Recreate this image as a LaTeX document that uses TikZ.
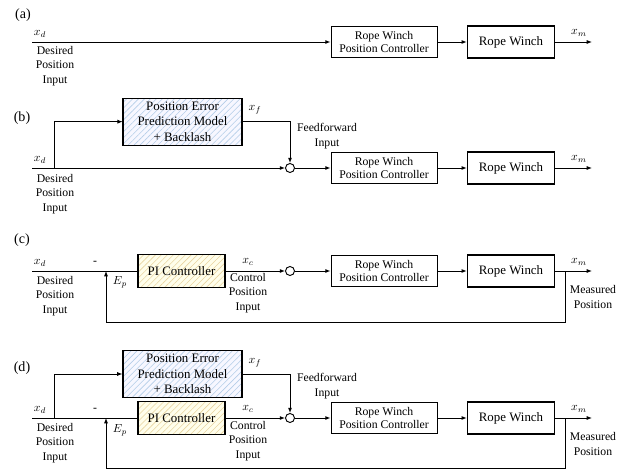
\documentclass[tikz,border=0pt]{standalone}
\usepackage{fontspec}
\setmainfont{Liberation Serif}
\usepackage{tikz}
\usetikzlibrary{positioning, arrows.meta, patterns.meta}
\definecolor{HatchBlue}{RGB}{180,205,232}
\definecolor{HatchGold}{RGB}{232,212,160}

\begin{document}
\begin{tikzpicture}[
          tag/.style={font=\fontsize{12}{14}\selectfont},
          lbl/.style={align=center, font=\fontsize{10}{12.5}\selectfont},
          sig/.style={font=\fontsize{10}{12}\selectfont, inner sep=1pt},
          ctl/.style={draw, line width=0.8pt, minimum width=3.18cm,
                      minimum height=0.93cm, align=center,
                      font=\fontsize{10}{11.5}\selectfont},
          plant/.style={draw, line width=1.2pt, minimum width=2.61cm,
                        minimum height=0.96cm, font=\fontsize{11}{13}\selectfont},
          model/.style={draw, line width=0.9pt, minimum width=3.57cm,
                        minimum height=1.35cm, align=center,
                        font=\fontsize{11}{13}\selectfont,
                        preaction={fill=blue!3},
                        pattern={Lines[angle=45, distance=3.6pt, line width=0.5pt]},
                        pattern color=HatchBlue},
          pictl/.style={draw, line width=0.9pt, minimum width=2.61cm,
                        minimum height=0.99cm,
                        font=\fontsize{11}{13}\selectfont,
                        preaction={fill=yellow!8},
                        pattern={Lines[angle=45, distance=3.6pt, line width=0.5pt]},
                        pattern color=HatchGold},
          sum/.style={circle, draw, line width=0.8pt, fill=white,
                      inner sep=0pt, minimum size=0.27cm},
          arr/.style={-{Latex[length=4.5pt, width=3.5pt]}, line width=0.85pt},
          ln/.style={line width=0.85pt}
        ]
        \useasboundingbox (0,0) rectangle (18.81,14.1);

        % (a) open loop
        \node[tag] (tagA) at (0.69, 13.65) {(a)};
        \coordinate (inA) at (0.96, 12.84);
        \coordinate (outA) at (17.76, 12.84);
        \node[sig] (xdA) at (1.2, 13.08) {$x_d$};
        \node[lbl] (desA) at (1.65, 12.12) {Desired\\Position\\Input};
        \node[ctl] (rwpcA) at (11.52, 12.84) {Rope Winch\\Position Controller};
        \node[plant] (rwA) at (15.33, 12.84) {Rope Winch};
        \node[sig] (xmA) at (17.37, 13.12) {$x_m$};
        \draw[arr] (inA) -- (rwpcA);
        \draw[arr] (rwpcA) -- (rwA);
        \draw[arr] (rwA) -- (outA);

        % (b) feedforward
        \node[tag] (tagB) at (0.66, 10.56) {(b)};
        \coordinate (inB) at (0.96, 9.06);
        \coordinate (brB) at (1.62, 9.06);
        \coordinate (outB) at (17.76, 9.06);
        \node[sig] (xdB) at (1.2, 9.3) {$x_d$};
        \node[lbl] (desB) at (1.65, 8.28) {Desired\\Position\\Input};
        \node[model] (pepmB) at (5.475, 10.45)
              {Position Error\\Prediction Model\\+ Backlash};
        \node[sig] (xfB) at (7.65, 10.8) {$x_f$};
        \node[sum] (sumB) at (8.7, 9.06) {};
        \node[lbl] (ffB) at (9.81, 10.02) {Feedforward\\Input};
        \node[ctl] (rwpcB) at (11.52, 9.06) {Rope Winch\\Position Controller};
        \node[plant] (rwB) at (15.33, 9.06) {Rope Winch};
        \node[sig] (xmB) at (17.37, 9.34) {$x_m$};
        \draw[arr] (inB) -- (sumB);
        \draw[arr] (brB) |- (pepmB.west);
        \draw[arr] (pepmB.east) -| (sumB.north);
        \draw[arr] (sumB) -- (rwpcB);
        \draw[arr] (rwpcB) -- (rwB);
        \draw[arr] (rwB) -- (outB);

        % (c) PI feedback
        \node[tag] (tagC) at (0.66, 6.9) {(c)};
        \coordinate (inC) at (0.96, 5.97);
        \coordinate (fbC) at (3.18, 5.97);
        \coordinate (tapC) at (16.95, 5.97);
        \coordinate (outC) at (17.76, 5.97);
        \node[sig] (xdC) at (1.2, 6.22) {$x_d$};
        \node[lbl] (desC) at (1.65, 5.22) {Desired\\Position\\Input};
        \node[sig] (negC) at (2.85, 6.2) {-};
        \node[sig] (epC) at (3.6, 5.62) {$E_p$};
        \node[pictl] (piC) at (5.445, 5.97) {PI Controller};
        \node[sig] (xcC) at (7.44, 6.24) {$x_c$};
        \node[lbl] (cpC) at (7.44, 5.31) {Control\\Position\\Input};
        \node[sum] (sumC) at (8.7, 5.97) {};
        \node[ctl] (rwpcC) at (11.52, 5.97) {Rope Winch\\Position Controller};
        \node[plant] (rwC) at (15.33, 5.97) {Rope Winch};
        \node[sig] (xmC) at (17.37, 6.25) {$x_m$};
        \node[lbl] (mpC) at (17.79, 5.19) {Measured\\Position};
        \draw[ln] (inC) -- (piC);
        \draw[arr] (piC) -- (sumC);
        \draw[arr] (sumC) -- (rwpcC);
        \draw[arr] (rwpcC) -- (rwC);
        \draw[arr] (rwC) -- (outC);
        \draw[arr] (tapC) -- ++(0,-1.53) -| (fbC);

        % (d) feedforward + PI feedback
        \node[tag] (tagD) at (0.66, 3.06) {(d)};
        \coordinate (inD) at (0.96, 1.56);
        \coordinate (brD) at (1.62, 1.56);
        \coordinate (fbD) at (3.18, 1.56);
        \coordinate (tapD) at (16.95, 1.56);
        \coordinate (outD) at (17.76, 1.56);
        \node[sig] (xdD) at (1.2, 1.8) {$x_d$};
        \node[lbl] (desD) at (1.65, 0.81) {Desired\\Position\\Input};
        \node[model] (pepmD) at (5.475, 2.88)
              {Position Error\\Prediction Model\\+ Backlash};
        \node[sig] (xfD) at (7.65, 3.21) {$x_f$};
        \node[lbl] (ffD) at (9.81, 2.52) {Feedforward\\Input};
        \node[sig] (negD) at (2.85, 1.79) {-};
        \node[sig] (epD) at (3.6, 1.2) {$E_p$};
        \node[pictl] (piD) at (5.445, 1.56) {PI Controller};
        \node[sig] (xcD) at (7.44, 1.82) {$x_c$};
        \node[lbl] (cpD) at (7.44, 0.87) {Control\\Position\\Input};
        \node[sum] (sumD) at (8.7, 1.56) {};
        \node[ctl] (rwpcD) at (11.52, 1.56) {Rope Winch\\Position Controller};
        \node[plant] (rwD) at (15.33, 1.56) {Rope Winch};
        \node[sig] (xmD) at (17.37, 1.84) {$x_m$};
        \node[lbl] (mpD) at (17.79, 0.78) {Measured\\Position};
        \draw[ln] (inD) -- (piD);
        \draw[arr] (brD) |- (pepmD.west);
        \draw[arr] (pepmD.east) -| (sumD.north);
        \draw[arr] (piD) -- (sumD);
        \draw[arr] (sumD) -- (rwpcD);
        \draw[arr] (rwpcD) -- (rwD);
        \draw[arr] (rwD) -- (outD);
        \draw[arr] (tapD) -- ++(0,-1.5) -| (fbD);
      \end{tikzpicture}
\end{document}
